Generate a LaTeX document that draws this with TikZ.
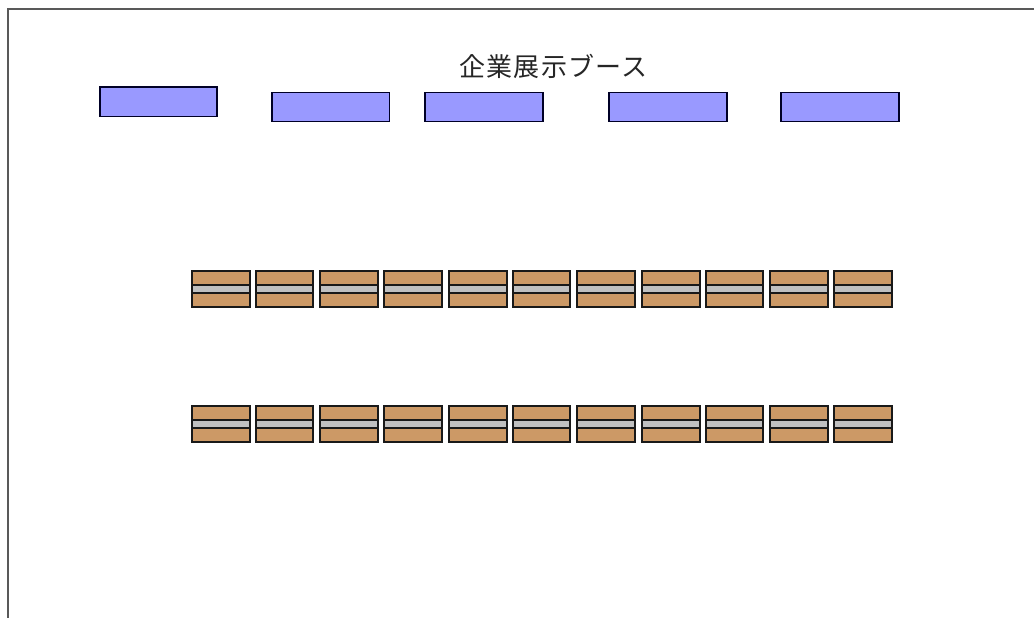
\documentclass[tikz,border=0pt]{standalone}
\usepackage{fontspec}
\newfontfamily\cjk{Noto Sans CJK JP}[LetterSpace=5]
\tikzset{
  booth/.style={draw=black!85!blue,line width=1.5pt,fill=boothblue},
  desktop/.style={draw=black!90,line width=1.5pt,fill=deskbrown},
  deskmid/.style={draw=black!90,line width=1.5pt,fill=deskgray},
  frameline/.style={draw=black!65,line width=1.8pt},
  titletext/.style={font=\cjk\fontsize{26}{30}\selectfont,text=black!85,inner sep=0pt}
}
\definecolor{boothblue}{HTML}{9999FF}
\definecolor{deskbrown}{HTML}{CC9966}
\definecolor{deskgray}{HTML}{C0C0C0}
\begin{document}
\begin{tikzpicture}[x=1pt,y=-1pt]
\useasboundingbox (0,0) rectangle (1034,618);
\draw[frameline] (7.8,618) -- (7.8,8.7) -- (1034,8.7);
\node[titletext] (title) at (553.5,66) {企業展示ブース};
\foreach \a/\b/\c/\d in {100/217/87/116.5,272/389.5/92.5/121.5,425/543/92.5/121.5,609/727/92.5/121.5,781/899/92.5/121.5}
  \draw[booth] (\a,\c) rectangle (\b,\d);
\foreach \y in {271,406}
  \foreach \a/\b in {192/250,256/313,320/378,384/442,449/507,513/570,577/635,642/700,706/763,770/828,834/892}{
    \draw[desktop] (\a,\y) rectangle (\b,\y+14);
    \draw[deskmid] (\a,\y+14) rectangle (\b,\y+22);
    \draw[desktop] (\a,\y+22) rectangle (\b,\y+36);
  }
\end{tikzpicture}
\end{document}
